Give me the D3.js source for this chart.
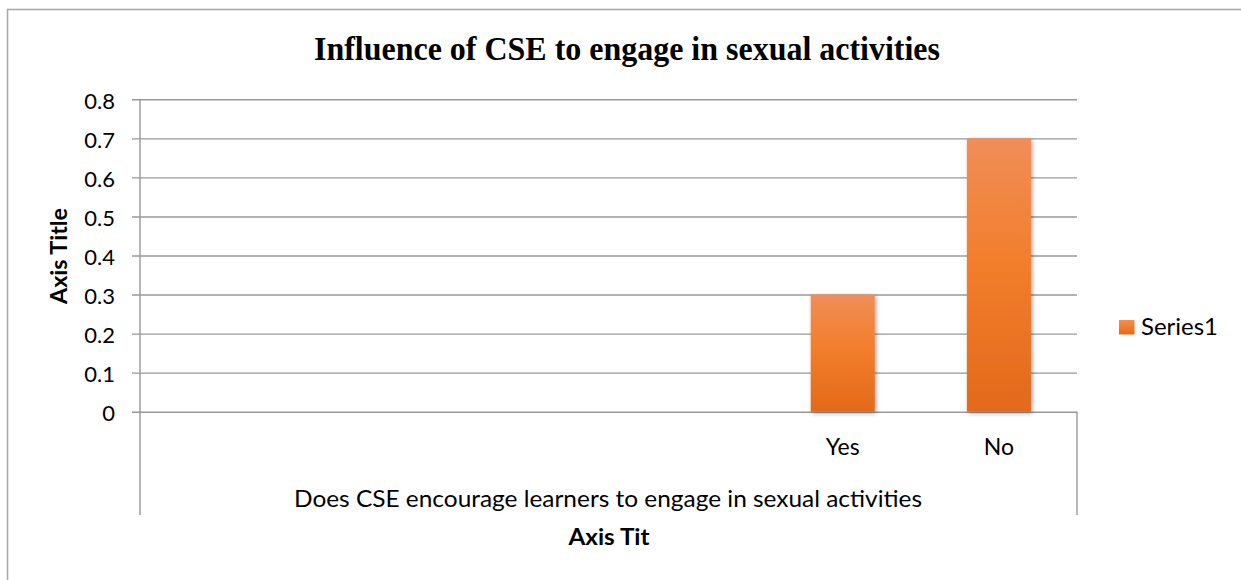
<!DOCTYPE html>
<html>
<head>
<meta charset="utf-8">
<script src="https://cdn.jsdelivr.net/npm/d3@7"></script>
<style>
  html, body { margin: 0; padding: 0; background: #fff; }
  svg { display: block; }
  text { font-family: Lato, "Open Sans", sans-serif; fill: #000; }
</style>
</head>
<body>
<svg id="chart" width="1241" height="580"></svg>
<script>
// Chart data
const categories = ["", "", "", "", "Yes", "No"];
const seriesValues = [null, null, null, null, 0.3, 0.7];
const seriesName = "Series1";
const yTicks = [0, 0.1, 0.2, 0.3, 0.4, 0.5, 0.6, 0.7, 0.8];
const chartTitle = "Influence of CSE to engage in sexual activities";
const groupLabel = "Does CSE encourage learners to engage in sexual activities";
const xAxisTitle = "Axis Tit";
const yAxisTitle = "Axis Title";

const svg = d3.select("#chart");
const plot = { left: 140, right: 1077, top: 99.3, bottom: 411.7 };

// Shrink a text element horizontally to a given width
function fit(sel, w) {
  sel.attr("textLength", w).attr("lengthAdjust", "spacingAndGlyphs");
  return sel;
}

// Outer chart frame (only top and left edges fall inside the view)
svg.append("rect")
  .attr("x", 7.5).attr("y", 9.5)
  .attr("width", 1400).attr("height", 800)
  .attr("fill", "none").attr("stroke", "#aaa").attr("stroke-width", 1.6);

const defs = svg.append("defs");
const grad = defs.append("linearGradient")
  .attr("id", "barFill").attr("x1", 0).attr("y1", 0).attr("x2", 0).attr("y2", 1);
grad.append("stop").attr("offset", "0%").attr("stop-color", "#F08E58");
grad.append("stop").attr("offset", "45%").attr("stop-color", "#F27E2C");
grad.append("stop").attr("offset", "100%").attr("stop-color", "#E3691A");

const shadow = defs.append("filter").attr("id", "barShadow")
  .attr("x", "-20%").attr("y", "-10%").attr("width", "140%").attr("height", "120%");
shadow.append("feDropShadow")
  .attr("dx", 1.5).attr("dy", 1.5).attr("stdDeviation", 2)
  .attr("flood-color", "#000").attr("flood-opacity", 0.35);

// Scales
const x = d3.scaleBand()
  .domain(d3.range(categories.length))
  .range([plot.left, plot.right])
  .paddingInner(0.59)
  .paddingOuter(0.295);

const y = d3.scaleLinear()
  .domain([0, 0.8])
  .range([plot.bottom, plot.top]);

// Horizontal gridlines with tick marks
const yAxis = d3.axisLeft(y)
  .tickValues(yTicks)
  .tickSize(-(plot.right - plot.left))
  .tickSizeOuter(0)
  .tickPadding(25)
  .tickFormat(d => d === 0 ? "0" : d3.format(".1f")(d));

const gy = svg.append("g")
  .attr("transform", `translate(${plot.left},0)`)
  .call(yAxis);
gy.select(".domain").remove();
gy.selectAll(".tick line")
  .attr("x1", -8)
  .attr("stroke", "#999").attr("stroke-width", 1.4);
gy.selectAll(".tick text")
  .attr("font-size", 22)
  .attr("dy", "0.4em")
  .style("font-family", "Lato, sans-serif")
  .attr("fill", "#000");

// Vertical axis line and category-group box edges
svg.append("line")
  .attr("x1", plot.left).attr("x2", plot.left)
  .attr("y1", plot.top).attr("y2", 515)
  .attr("stroke", "#999").attr("stroke-width", 1.4);
svg.append("line")
  .attr("x1", plot.right).attr("x2", plot.right)
  .attr("y1", plot.bottom).attr("y2", 515)
  .attr("stroke", "#999").attr("stroke-width", 1.4);

// Bars
svg.append("g")
  .selectAll("rect")
  .data(seriesValues.map((v, i) => ({ v, i })).filter(d => d.v != null))
  .join("rect")
  .attr("x", d => x(d.i))
  .attr("width", x.bandwidth())
  .attr("y", d => y(d.v))
  .attr("height", d => y(0) - y(d.v))
  .attr("fill", "url(#barFill)")
  .attr("filter", "url(#barShadow)");

// Category labels
svg.append("g")
  .selectAll("text")
  .data(categories.map((c, i) => ({ c, i })).filter(d => d.c !== ""))
  .join("text")
  .attr("x", d => x(d.i) + x.bandwidth() / 2)
  .attr("y", 455)
  .attr("text-anchor", "middle")
  .attr("font-size", 23)
  .text(d => d.c);

// Category group label
fit(svg.append("text")
  .attr("x", 608).attr("y", 507)
  .attr("text-anchor", "middle")
  .attr("font-size", 23.5)
  .text(groupLabel), 628);

// Axis titles
fit(svg.append("text")
  .attr("x", 609).attr("y", 545)
  .attr("text-anchor", "middle")
  .attr("font-size", 23).attr("font-weight", "bold")
  .text(xAxisTitle), 81);

fit(svg.append("text")
  .attr("transform", "translate(67,256) rotate(-90)")
  .attr("text-anchor", "middle")
  .attr("font-size", 23).attr("font-weight", "bold")
  .text(yAxisTitle), 96);

// Title
fit(svg.append("text")
  .attr("x", 627).attr("y", 60)
  .attr("text-anchor", "middle")
  .style("font-family", "'Liberation Serif', 'Times New Roman', serif")
  .attr("font-size", 33).attr("font-weight", "bold")
  .text(chartTitle), 626);

// Legend
const legend = svg.append("g").attr("transform", "translate(1119,320)");
legend.append("rect")
  .attr("width", 15.5).attr("height", 14.5)
  .attr("fill", "url(#barFill)");
fit(legend.append("text")
  .attr("x", 22).attr("y", 15)
  .attr("font-size", 24)
  .text(seriesName), 77);
</script>
</body>
</html>
